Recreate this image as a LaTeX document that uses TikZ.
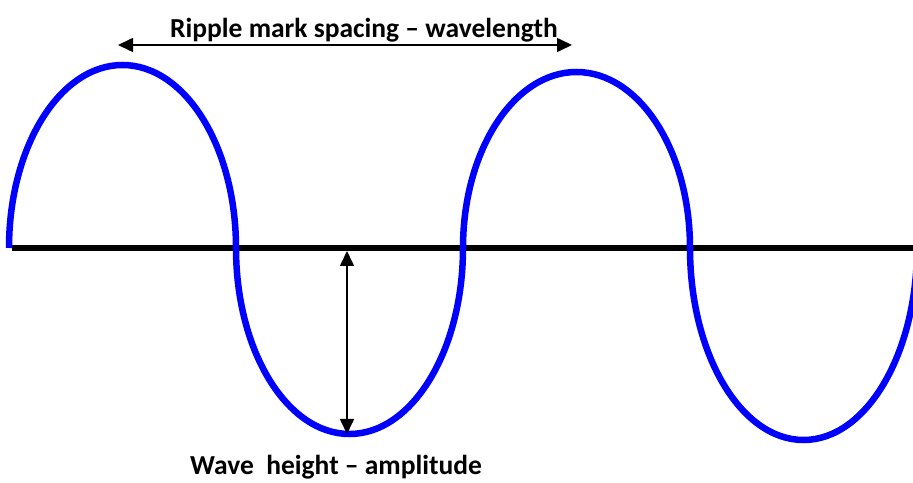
\documentclass[tikz,border=0pt]{standalone}
\usepackage{fontspec}
\setmainfont{Carlito}
\usetikzlibrary{arrows.meta}
\begin{document}
\begin{tikzpicture}[x=1pt,y=1pt,
  wave/.style={draw=blue,line width=6.5pt},
  baseline line/.style={draw=black,line width=6.5pt},
  dimarrow/.style={draw=black,line width=1.6pt,{Triangle[length=15pt,width=14pt]}-{Triangle[length=15pt,width=14pt]}},
  lbl/.style={font=\bfseries\fontsize{27.5}{32}\selectfont,inner sep=0pt}]
\useasboundingbox (0,0) rectangle (913,482);
\clip (0,0) rectangle (913,482);
% base line
\coordinate (bl) at (12,234);
\coordinate (br) at (913,234);
\draw[baseline line] (bl) -- (br);
% wave
\draw[wave] (9,234)
  arc[start angle=180,end angle=0,x radius=113.5,y radius=183]
  arc[start angle=180,end angle=360,x radius=113.5,y radius=186]
  arc[start angle=180,end angle=0,x radius=113.5,y radius=176]
  arc[start angle=180,end angle=360,x radius=113.5,y radius=192];
% wavelength arrow
\coordinate (wl) at (118,437);
\coordinate (wr) at (572,437);
\draw[dimarrow] (wl) -- (wr);
\node[lbl,anchor=base] (wavelength) at (364,444) {Ripple mark spacing – wavelength};
% amplitude arrow
\coordinate (at) at (347,231);
\coordinate (ab) at (347,48);
\draw[dimarrow] (at) -- (ab);
\node[lbl,anchor=base west] (amplitude) at (190,7.5) {Wave\ \ height – amplitude};
\end{tikzpicture}
\end{document}
